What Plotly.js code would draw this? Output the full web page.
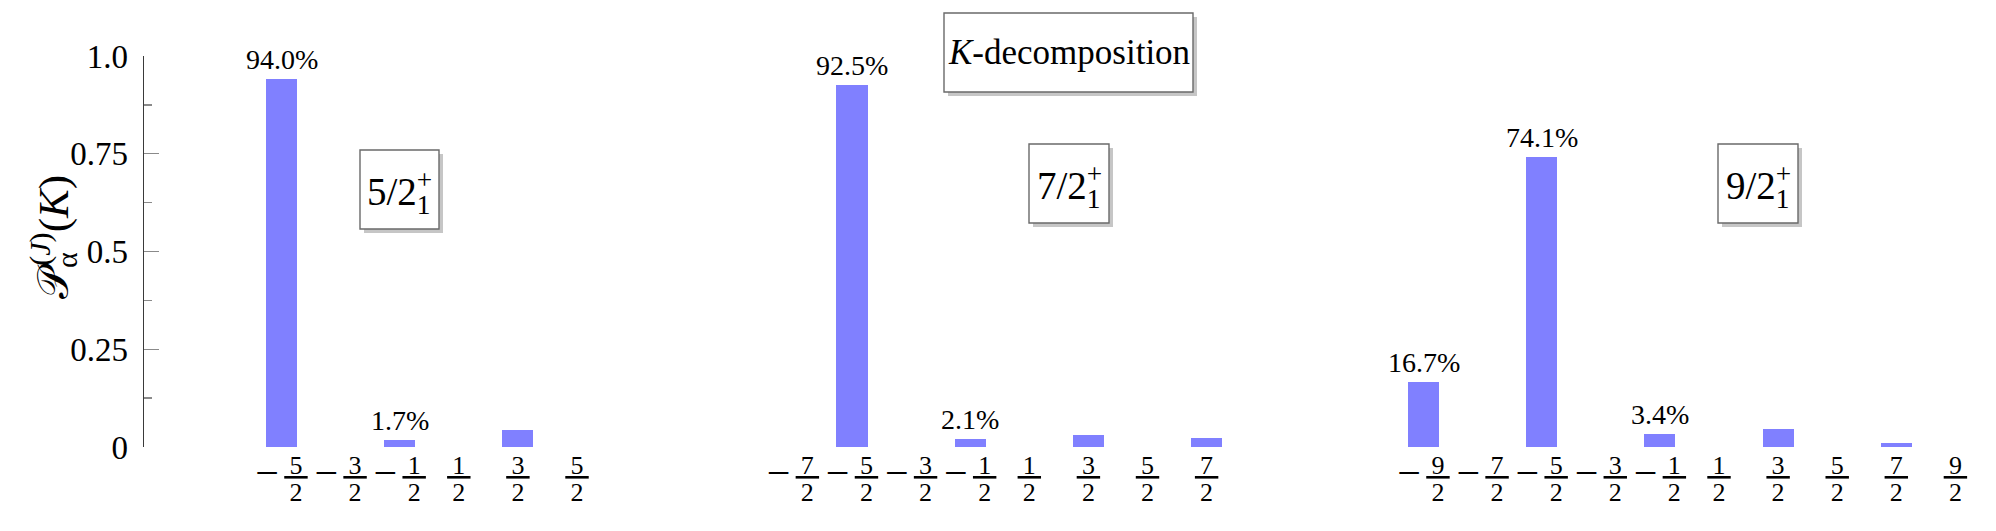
<!DOCTYPE html>
<html>
<head>
<meta charset="utf-8">
<script src="https://cdn.plot.ly/plotly-3.0.1.min.js"></script>
<style>html,body{margin:0;padding:0;background:#fff;}#chart{width:1996px;height:531px;}</style>
</head>
<body>
<div id="chart"></div>
<script>
// ---- data ----
const states = ['5/2', '7/2', '9/2'];
const K1 = [-2.5, -1.5, -0.5, 0.5, 1.5, 2.5];
const P1 = [0.940, 0, 0.017, 0, 0.043, 0];
const L1 = ['94.0%', '', '1.7%', '', '', ''];
const K2 = [-3.5, -2.5, -1.5, -0.5, 0.5, 1.5, 2.5, 3.5];
const P2 = [0, 0.925, 0, 0.021, 0, 0.031, 0, 0.022];
const L2 = ['', '92.5%', '', '2.1%', '', '', '', ''];
const K3 = [-4.5, -3.5, -2.5, -1.5, -0.5, 0.5, 1.5, 2.5, 3.5, 4.5];
const P3 = [0.167, 0, 0.741, 0, 0.034, 0, 0.047, 0, 0.011, 0];
const L3 = ['16.7%', '', '74.1%', '', '3.4%', '', '', '', '', ''];
const yTickVals = [0, 0.25, 0.5, 0.75, 1.0];
const yTickText = ['0', '0.25', '0.5', '0.75', '1.0'];
const yMinorVals = [0.125, 0.375, 0.625, 0.875];

// ---- layout helpers (pixel geometry) ----
const W = 1996, H = 531;
const px = p => p / W;
const py = p => 1 - p / H;
const UNIT = 59.1;            // pixels per unit of K
const Y0 = 447, Y1 = 56;      // pixel rows of P=0 and P=1
const FONT = 'Liberation Serif';
const BAR = '#8080ff';

function fracLabel(k) {
  const num = Math.round(Math.abs(2 * k));
  const th = '\u2009';
  const big = s => "<span style='font-size:26px'>" + s + "</span>";
  const minus = "<span style='font-size:42px;baseline-shift:-13px'>\u2212</span> ";
  const pad = "<span style='font-size:23.7px'>\u2003</span> ";
  if (k < 0) return minus + '<u>' + big(th + num + th) + '</u><br>' + pad + big(th + '2' + th);
  return '<u>' + big(th + num + th) + '</u><br>' + big(th + '2' + th);
}

function xAxis(K, anchorK, anchorPx, d0, d1) {
  return {
    domain: [px(d0), px(d1)],
    range: [anchorK - (anchorPx - d0) / UNIT, anchorK + (d1 - anchorPx) / UNIT],
    anchor: 'y',
    showline: false, showgrid: false, zeroline: false, ticks: '',
    tickmode: 'array', tickvals: K, ticktext: K.map(fracLabel),
    tickfont: {family: FONT, size: 21, color: '#000'},
    ticklabelstandoff: 5,
    fixedrange: true
  };
}

function barTrace(K, P, xa) {
  return {
    type: 'bar', x: K, y: P, xaxis: xa, yaxis: 'y',
    width: 0.525,
    marker: {color: BAR, line: {width: 0}},
    cliponaxis: false,
    hoverinfo: 'x+y', showlegend: false
  };
}

const data = [
  barTrace(K1, P1, 'x'),
  barTrace(K2, P2, 'x2'),
  barTrace(K3, P3, 'x3')
];

const shapes = [], annotations = [];

// value labels above bars (placed through the axes' data scales)
[[K1, P1, L1, 'x'], [K2, P2, L2, 'x2'], [K3, P3, L3, 'x3']].forEach(([K, P, L, xa]) => {
  K.forEach((k, i) => {
    if (!L[i]) return;
    annotations.push({xref: xa, yref: 'y', x: k, y: P[i], text: L[i], showarrow: false,
      xanchor: 'center', yanchor: 'bottom', yshift: 2,
      font: {family: FONT, size: 28, color: '#000'}});
  });
});

// boxes: [x0, y0, x1, y1] in pixels, text
const sub1 = "<sub><span style='letter-spacing:-0.5em'>1</span></sub><sup>+</sup>";
const boxes = [
  {r: [944, 13, 1193, 92], t: '<i>K</i>-decomposition', s: 35},
  {r: [360, 150, 439, 229], t: states[0] + sub1, s: 39},
  {r: [1029, 144, 1109, 223], t: states[1] + sub1, s: 39},
  {r: [1718, 144, 1798, 223], t: states[2] + sub1, s: 39}
];
boxes.forEach(b => {
  const [x0, y0, x1, y1] = b.r;
  shapes.push({type: 'rect', xref: 'paper', yref: 'paper', x0: px(x0 + 4), x1: px(x1 + 4), y0: py(y0 + 4), y1: py(y1 + 4),
    fillcolor: '#c6c6c6', line: {width: 0}, layer: 'above'});
  shapes.push({type: 'rect', xref: 'paper', yref: 'paper', x0: px(x0), x1: px(x1), y0: py(y0), y1: py(y1),
    fillcolor: '#ffffff', line: {width: 1.4, color: '#6a6a6a'}, layer: 'above'});
  annotations.push({xref: 'paper', yref: 'paper', x: px((x0 + x1) / 2), y: py((y0 + y1) / 2),
    xanchor: 'center', yanchor: 'middle', showarrow: false, text: b.t,
    font: {family: FONT, size: b.s, color: '#000'}});
});

// y-axis title (rotated), placed beside the axis
annotations.push({xref: 'paper', yref: 'paper', x: px(53), y: py(237), textangle: -90,
  xanchor: 'center', yanchor: 'middle', showarrow: false,
  text: "\ud835\udcab<sub><span style='letter-spacing:-0.45em'>\u03b1</span></sub><sup>(<i>J</i>)</sup>(<i>K</i>)",
  font: {family: FONT, size: 43, color: '#000'}});

const layout = {
  width: W, height: H,
  font: {family: FONT, color: '#000'},
  margin: {l: 0, r: 0, t: 0, b: 0, pad: 0},
  paper_bgcolor: '#fff', plot_bgcolor: 'rgba(0,0,0,0)',
  showlegend: false, bargap: 0,
  xaxis: xAxis(K1, -2.5, 281.5, 144, 640),
  xaxis2: xAxis(K2, -2.5, 852, 700, 1290),
  xaxis3: xAxis(K3, -4.5, 1423.5, 1330, 1990),
  yaxis: {
    domain: [py(Y0), py(Y1)], range: [0, 1], anchor: 'x',
    showline: true, linecolor: '#3a3a3a', linewidth: 1.4,
    showgrid: false, zeroline: false,
    ticks: 'inside', ticklen: 15, tickwidth: 1.3, tickcolor: '#8a8a8a',
    tickmode: 'array', tickvals: yTickVals, ticktext: yTickText,
    minor: {tickvals: yMinorVals, ticks: 'inside', ticklen: 8, tickwidth: 1.3, tickcolor: '#8a8a8a', showgrid: false},
    tickfont: {family: FONT, size: 33, color: '#000'},
    ticklabelstandoff: 8,
    fixedrange: true
  },
  shapes: shapes,
  annotations: annotations
};

Plotly.newPlot('chart', data, layout, {displayModeBar: false, staticPlot: true});
</script>
</body>
</html>
